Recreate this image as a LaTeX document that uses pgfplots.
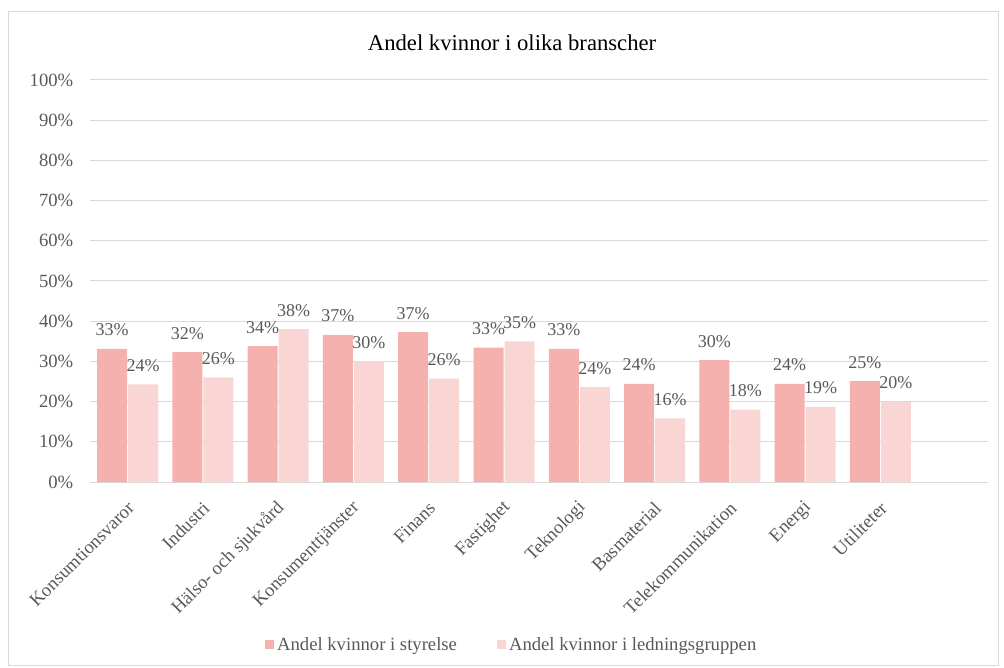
\documentclass[border=0pt]{standalone}
\usepackage{fontspec}
\setmainfont{Liberation Serif}
\usepackage{pgfplots}
\pgfplotsset{compat=1.18}
\definecolor{barA}{RGB}{245,177,173}
\definecolor{barB}{RGB}{249,214,212}
\definecolor{txt}{RGB}{89,89,89}
\definecolor{grid}{RGB}{217,217,217}
\begin{document}
\begin{tikzpicture}
\path[use as bounding box] (0pt,0pt) rectangle (753pt,501pt);
\draw[grid,line width=0.75pt] (6pt,2pt) rectangle (748.5pt,492pt);
\begin{axis}[
  at={(67.5pt,139.5pt)}, anchor=south west,
  scale only axis, width=673.5pt, height=301.5pt,
  ybar=0.75pt, bar width=22.5pt,
  xmin=-0.5, xmax=11.43, ymin=0, ymax=100,
  xtick={0,...,10},
  xticklabels={Konsumtionsvaror,Industri,Hälso- och sjukvård,Konsumenttjänster,Finans,Fastighet,Teknologi,Basmaterial,Telekommunikation,Energi,Utiliteter},
  ytick={0,10,...,100},
  yticklabels={0\%,10\%,20\%,30\%,40\%,50\%,60\%,70\%,80\%,90\%,100\%},
  /pgf/number format/assume math mode=true,
  axis line style={draw=none},
  ymajorgrids, grid style={draw=grid, line width=0.75pt},
  major tick length=0pt,
  tick label style={font=\fontsize{14}{16}\selectfont, text=txt},
  yticklabel style={anchor=east, xshift=-9pt},
  xticklabel style={rotate=45, anchor=east, xshift=-7pt, yshift=-14pt},
  title={Andel kvinnor i olika branscher},
  title style={at={(0.47,1.073)}, anchor=center, font=\fontsize{17}{20}\selectfont, text=black},
  nodes near coords={\pgfmathprintnumber[fixed,precision=0]{\pgfplotspointmeta}\%},
  nodes near coords style={font=\fontsize{13.5}{16}\selectfont, text=txt, anchor=south, yshift=6pt},
  legend columns=2,
  legend style={at={(0.47,-0.405)}, anchor=center, draw=none, font=\fontsize{14}{16}\selectfont, text=txt,
    /tikz/every even column/.append style={column sep=28pt}},
  legend image code/.code={\fill[#1,draw=none] (0pt,-3.5pt) rectangle (7pt,3.5pt);},
]
\addplot[fill=barA, draw=none] coordinates {
(0,33.1) (1,32.3) (2,33.8) (3,36.6) (4,37.3) (5,33.4) (6,33.1) (7,24.4) (8,30.3) (9,24.4) (10,25.1)};
\addplot[fill=barB, draw=none] coordinates {
(0,24.3) (1,26.0) (2,38.0) (3,30.0) (4,25.7) (5,35.0) (6,23.6) (7,15.8) (8,18.0) (9,18.7) (10,20.0)};
\legend{Andel kvinnor i styrelse, Andel kvinnor i ledningsgruppen}
\end{axis}
\end{tikzpicture}
\end{document}
